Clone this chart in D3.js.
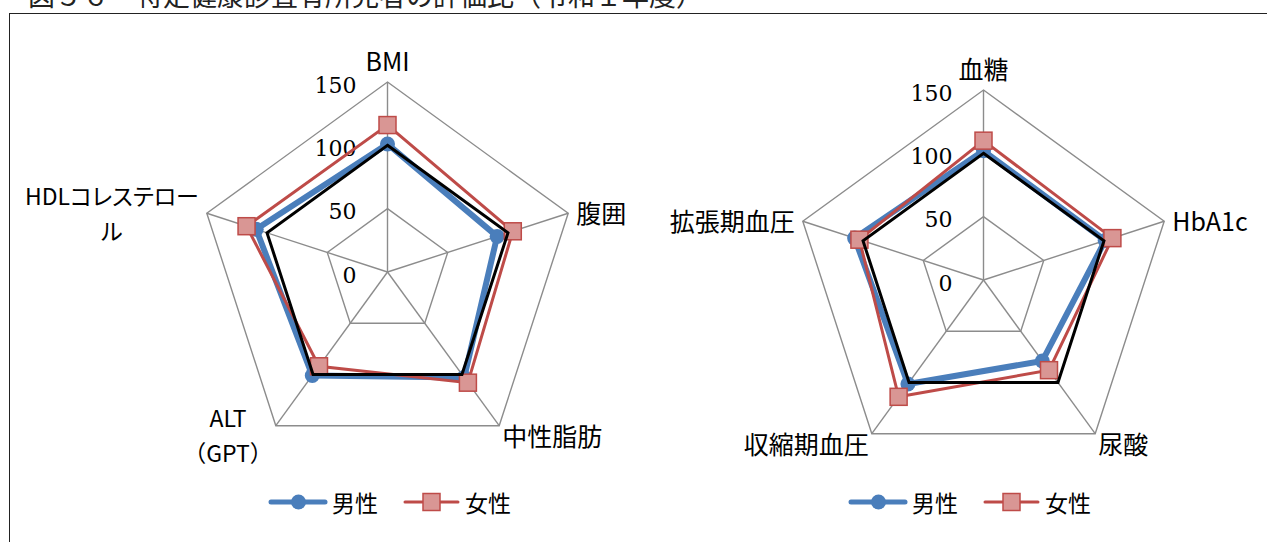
<!DOCTYPE html>
<html lang="ja">
<head>
<meta charset="utf-8">
<title>特定健康診査有所見者の評価比</title>
<style>
body {
  margin: 0;
  background: #fff;
}
svg {
  display: block;
  font-family: "Noto Sans CJK JP", "Noto Sans", sans-serif;
}
.ticklabel {
  font-family: "DejaVu Serif", serif;
  font-size: 22px;
  fill: #000;
}
.axislabel {
  font-size: 25px;
  fill: #000;
}
.axislabel.multi {
  font-size: 23px;
}
.axislabel.kana {
  font-feature-settings: "palt";
}
.legend text {
  font-size: 23px;
  fill: #000;
}
</style>
</head>
<body>
<svg id="chart" width="1267" height="542"></svg>
<script src="https://cdn.jsdelivr.net/npm/d3@7/dist/d3.min.js"></script>
<script>

// data (100 = reference)
var leftAxes = [["BMI"], ["腹囲"], ["中性脂肪"], ["ALT", "（GPT）"], ["HDLコレステロー", "ル"]];
var leftMen = [101, 91, 103, 101, 109];
var leftWomen = [116, 104, 108, 92, 117];

var rightAxes = [["血糖"], ["HbA1c"], ["尿酸"], ["収縮期血圧"], ["拡張期血圧"]];
var rightMen = [102, 101, 79, 101.5, 107];
var rightWomen = [110, 107, 88, 114, 103];

var baseline = [100, 100, 100, 100, 100];
var tickValues = [0, 50, 100, 150];
var seriesNames = ["男性", "女性"];

var blue = "#4a7ebb",
    red = "#be4b48",
    pink = "#d99694",
    grid = "#8c8c8c";

var svg = d3.select("#chart");

// title (cut off at the top in the original too) and frame
svg.append("text")
  .attr("x", 28)
  .attr("y", 6)
  .attr("font-size", 27)
  .attr("fill", "#222")
  .text("図５６　特定健康診査有所見者の評価比（令和１年度）");

svg.append("rect")
  .attr("x", 9.5).attr("y", 13.5)
  .attr("width", 1300).attr("height", 600)
  .attr("fill", "none")
  .attr("stroke", "#222")
  .attr("stroke-width", 1);

function radar(cx, cy, R, axes, men, women, legendX) {

  var g = svg.append("g").attr("transform", "translate(" + cx + "," + cy + ")");
  var r = d3.scaleLinear().domain([0, 150]).range([0, R]);
  var angle = d3.scaleLinear().domain([0, axes.length]).range([0, 2 * Math.PI]);

  function px(i, v) { return r(v) * Math.sin(angle(i)); }
  function py(i, v) { return -r(v) * Math.cos(angle(i)); }

  var line = d3.lineRadial()
    .angle(function(d, i) { return angle(i); })
    .radius(function(d) { return r(d); })
    .curve(d3.curveLinearClosed);

  // rings
  g.selectAll(".ring")
    .data(tickValues.slice(1))
    .enter().append("path")
    .attr("d", function(t) { return line(axes.map(function() { return t; })); })
    .attr("fill", "none")
    .attr("stroke", grid)
    .attr("stroke-width", 1.4);

  // spokes
  g.selectAll(".spoke")
    .data(axes)
    .enter().append("line")
    .attr("x1", 0).attr("y1", 0)
    .attr("x2", function(d, i) { return px(i, 150); })
    .attr("y2", function(d, i) { return py(i, 150); })
    .attr("stroke", grid)
    .attr("stroke-width", 1.4);

  // tick labels
  g.selectAll(".ticklabel")
    .data(tickValues)
    .enter().append("text")
    .attr("class", "ticklabel")
    .attr("x", -31)
    .attr("y", function(t) { return -r(t) + 3; })
    .attr("text-anchor", "end")
    .attr("dominant-baseline", "central")
    .text(function(t) { return t; });

  // men
  g.append("path")
    .attr("d", line(men))
    .attr("fill", "none")
    .attr("stroke", blue)
    .attr("stroke-width", 6)
    .attr("stroke-linejoin", "round");
  g.selectAll(".men")
    .data(men)
    .enter().append("circle")
    .attr("cx", function(d, i) { return px(i, d); })
    .attr("cy", function(d, i) { return py(i, d); })
    .attr("r", 7.5)
    .attr("fill", blue);

  // women
  g.append("path")
    .attr("d", line(women))
    .attr("fill", "none")
    .attr("stroke", red)
    .attr("stroke-width", 3);
  g.selectAll(".women")
    .data(women)
    .enter().append("rect")
    .attr("x", function(d, i) { return px(i, d) - 8.5; })
    .attr("y", function(d, i) { return py(i, d) - 8.5; })
    .attr("width", 17).attr("height", 17)
    .attr("fill", pink)
    .attr("stroke", red)
    .attr("stroke-width", 1.5);

  // reference line at 100
  g.append("path")
    .attr("d", line(baseline))
    .attr("fill", "none")
    .attr("stroke", "#000")
    .attr("stroke-width", 3);

  // category labels
  axes.forEach(function(lines, i) {
    var vx = px(i, 150), vy = py(i, 150);
    var s = Math.sin(angle(i)), c = Math.cos(angle(i));
    var cls = "axislabel";
    if (lines.length > 1) cls += " multi";
    if (/[\u30A0-\u30FF]/.test(lines.join(""))) cls += " kana";
    var t = g.append("text")
      .attr("class", cls)
      .attr("dominant-baseline", "central");
    lines.forEach(function(l) { t.append("tspan").text(l); });
    var w = d3.max(t.selectAll("tspan").nodes(), function(n) { return n.getComputedTextLength(); });
    var lh = 35;
    var yc, x, anchor;
    if (Math.abs(s) < 0.01) {
      x = vx; yc = vy - 22; anchor = "middle";
    } else {
      var gap = c > 0 ? 8 : 3;
      yc = c > 0 ? vy - 1 : vy + 9;
      x = s > 0 ? vx + gap : vx - gap;
      anchor = s > 0 ? "start" : "end";
      if (lines.length > 1) {
        x = s > 0 ? x + w / 2 : x - w / 2;
        anchor = "middle";
      }
    }
    var y0 = yc - (lines.length - 1) * lh / 2;
    t.attr("text-anchor", anchor);
    t.selectAll("tspan")
      .attr("x", x)
      .attr("y", function(d, j) { return y0 + j * lh; });
  });

  // legend
  var lg = svg.append("g").attr("class", "legend").attr("transform", "translate(" + legendX + ",502)");
  lg.append("line").attr("x1", 0).attr("x2", 54).attr("stroke", blue)
    .attr("stroke-width", 5).attr("stroke-linecap", "round");
  lg.append("circle").attr("cx", 27.5).attr("r", 7.5).attr("fill", blue);
  lg.append("text").attr("x", 61).attr("dominant-baseline", "central").text(seriesNames[0]);
  lg.append("line").attr("x1", 134).attr("x2", 187).attr("stroke", red)
    .attr("stroke-width", 3).attr("stroke-linecap", "round");
  lg.append("rect").attr("x", 152).attr("y", -8.5).attr("width", 17).attr("height", 17)
    .attr("fill", pink).attr("stroke", red).attr("stroke-width", 1.5);
  lg.append("text").attr("x", 194).attr("dominant-baseline", "central").text(seriesNames[1]);
}

radar(387.5, 272, 190, leftAxes, leftMen, leftWomen, 271);
radar(983.5, 280, 190, rightAxes, rightMen, rightWomen, 851);

</script>
</body>
</html>
